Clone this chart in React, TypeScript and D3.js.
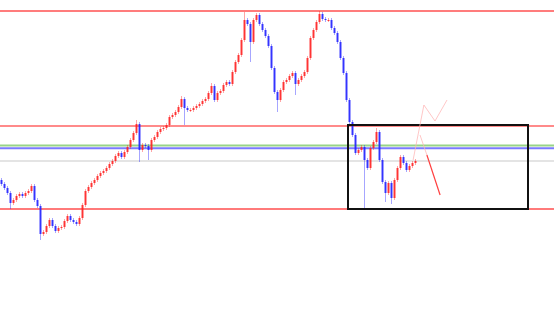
import React from "react";
import * as d3 from "d3";

const W = 554;
const H = 312;

// closing prices per candle (open = previous close)
const firstOpen = 120;
const closes = [
  116, 112, 107, 97, 100, 104, 106, 104, 107, 109,
  114, 100, 94, 66, 68, 74, 80, 74, 69, 72,
  73, 79, 84, 80, 78, 76, 82, 95, 109, 113,
  117, 120, 124, 127, 129, 132, 136, 139, 144, 147,
  143, 148, 153, 160, 167, 176, 150, 155, 154, 150,
  160, 163, 168, 171, 172, 175, 183, 185, 188, 193,
  201, 192, 190, 190, 192, 194, 196, 199, 201, 207,
  214, 200, 207, 209, 215, 218, 216, 228, 238, 245,
  260, 280, 276, 258, 280, 285, 276, 270, 264, 254,
  232, 208, 200, 210, 218, 220, 224, 227, 216, 220,
  224, 228, 242, 262, 270, 278, 286, 281, 280, 280,
  272, 267, 258, 242, 227, 200, 178, 165, 147, 150,
  153, 140, 132, 152, 158, 168, 140, 118, 107, 117,
  102, 120, 132, 143, 137, 130, 134, 137, 139,
];

// notable long wicks: [candle index, high, low]
const longWicks: [number, number | null, number | null][] = [
  [3, null, 91], [13, null, 60], [45, 180, null], [46, null, 138],
  [49, null, 140], [60, 204, null], [61, null, 175], [70, 217, null],
  [81, 288, null], [83, null, 238], [85, 287, null], [92, null, 188],
  [98, null, 205], [106, 289, null], [121, null, 92], [125, 172, null],
  [128, null, 98], [130, null, 96], [133, 145, null],
];

// horizontal levels
const levels = [
  { price: 289, color: "#ff5050", width: 1.4 },
  { price: 174, color: "#ff8a8a", width: 1.8 },
  { price: 154.5, color: "#98d488", width: 2 },
  { price: 151.7, color: "#7a7aff", width: 2 },
  { price: 139, color: "#e4e4e4", width: 2 },
  { price: 91, color: "#ff7a7a", width: 2 },
];

// box: candle index range, price range
const boxIdx = [115.5, 175.5];
const boxPrice = [175, 91];

// projected paths (index, price)
const projUp: [number, number][] = [[137.2, 140], [140.8, 195], [144.5, 179], [148.5, 200]];
const projDownFaint: [number, number][] = [[139.5, 165], [141.8, 145]];
const projDown: [number, number][] = [[141.8, 145], [146.2, 105]];

export default function App() {
  const x = d3.scaleLinear().domain([0, 184]).range([1.5, 553.5]);
  const y = d3.scaleLinear().domain([-12, 300]).range([H, 0]);

  const candles = closes.map((c, i) => {
    const o = i === 0 ? firstOpen : closes[i - 1];
    let hi = Math.max(o, c) + 2;
    let lo = Math.min(o, c) - 2;
    const w = longWicks.find((d) => d[0] === i);
    if (w) {
      if (w[1] != null) hi = w[1];
      if (w[2] != null) lo = w[2];
    }
    return { i, o, c, hi, lo };
  });

  const line = d3
    .line<[number, number]>()
    .x((d) => x(d[0]))
    .y((d) => y(d[1]));

  return (
    <svg
      width={W}
      height={H}
      style={{ position: "absolute", left: 0, top: 0, background: "#fff" }}
    >
      {levels.map((l, k) => (
        <line
          key={k}
          x1={0}
          x2={W}
          y1={y(l.price)}
          y2={y(l.price)}
          stroke={l.color}
          strokeWidth={l.width}
        />
      ))}
      {candles.map((d) => {
        const bull = d.c >= d.o;
        const col = bull ? "#ff2020" : "#2020ff";
        const top = y(Math.max(d.o, d.c));
        const bot = y(Math.min(d.o, d.c));
        return (
          <g key={d.i}>
            <line
              x1={x(d.i)}
              x2={x(d.i)}
              y1={y(d.hi)}
              y2={y(d.lo)}
              stroke={col}
              strokeOpacity={0.4}
              strokeWidth={1}
            />
            <rect
              x={x(d.i) - 1}
              y={top}
              width={2}
              height={Math.max(1, bot - top)}
              fill={col}
              fillOpacity={0.85}
            />
          </g>
        );
      })}
      <rect
        x={x(boxIdx[0])}
        y={y(boxPrice[0])}
        width={x(boxIdx[1]) - x(boxIdx[0])}
        height={y(boxPrice[1]) - y(boxPrice[0])}
        fill="none"
        stroke="#111"
        strokeWidth={2}
      />
      <path d={line(projUp) || ""} fill="none" stroke="#ffb4b4" strokeWidth={1} strokeOpacity={0.75} />
      <path d={line(projDownFaint) || ""} fill="none" stroke="#ffb4b4" strokeWidth={1} strokeOpacity={0.75} />
      <path d={line(projDown) || ""} fill="none" stroke="#ff4040" strokeWidth={1.2} />
    </svg>
  );
}
